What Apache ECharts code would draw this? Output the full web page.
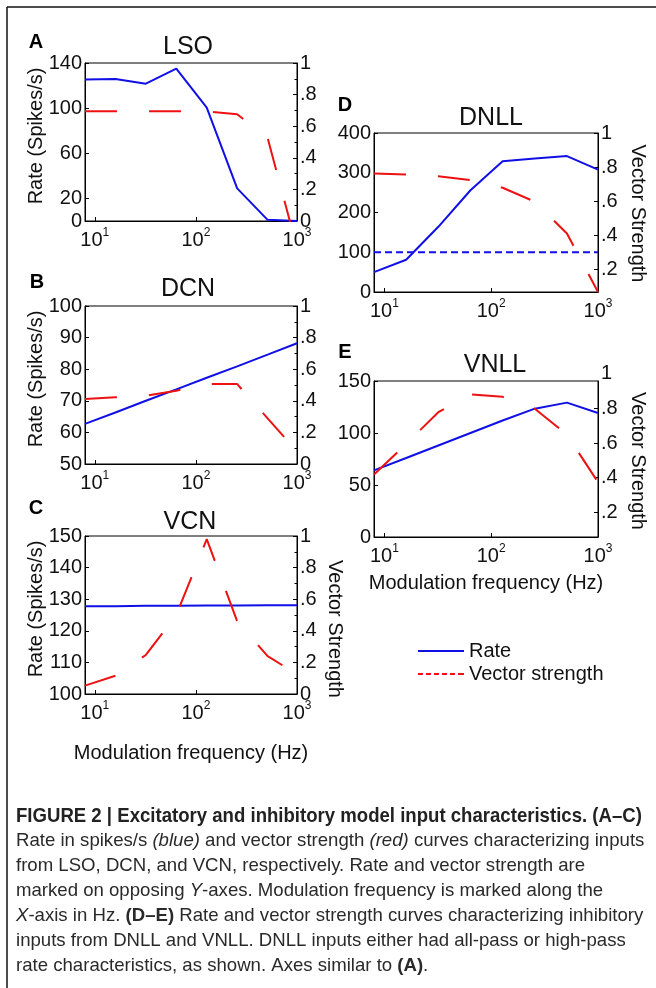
<!DOCTYPE html>
<html><head><meta charset="utf-8">
<script src="https://cdn.jsdelivr.net/npm/echarts@6/dist/echarts.min.js"></script>
<style>html,body{margin:0;padding:0;background:#fff}#c{width:656px;height:988px}</style>
</head><body><div id="c"></div>
<script>
// ---------- data ----------
const freq = [8, 16, 32, 64, 128, 256, 512, 1000];          // modulation frequency (Hz)
const lsoRate  = [125.3, 125.8, 121.7, 135, 100.5, 28.9, 1, 0];
const lsoVS    = [0.695, 0.695, 0.695, 0.695, 0.693, 0.676, 0.526, -0.17];
const dcnRate  = [62.7, 66.3, 70.0, 73.6, 77.3, 80.9, 84.6, 88.2];
const dcnVS    = [0.411, 0.422, 0.432, 0.464, 0.506, 0.506, 0.289, 0.08];
const vcnRate  = [127.8, 127.8, 127.9, 127.9, 128.0, 128.0, 128.1, 128.1];
const vcnVS    = [0.053, 0.116, 0.247, 0.50, 0.98, 0.46, 0.24, 0.125];
const dnllRate = [50, 81, 164, 256, 329, 336, 342, 308];       // high-pass
const dnllRateAllPass = [100, 100, 100, 100, 100, 100, 100, 100];
const dnllVS   = [0.762, 0.756, 0.745, 0.723, 0.678, 0.596, 0.409, 0.065];
const vnllRate = [64.1, 76, 88, 100, 112, 123.4, 129.2, 119.2];
const vnllVS   = [0.418, 0.595, 0.78, 0.884, 0.869, 0.80, 0.65, 0.373];
const lsoRateTicks = [0, 20, 60, 100, 140];
const dnllVSTicks = [0.2, 0.4, 0.6, 0.8, 1];
const vnllVSTicks = [0.2, 0.4, 0.6, 0.8];
const panelTitles = ['LSO', 'DCN', 'VCN', 'DNLL', 'VNLL'];
const panelLetters = ['A', 'B', 'C', 'D', 'E'];
const captionLines = [
  'Rate in spikes/s {i|(blue)} and vector strength {i|(red)} curves characterizing inputs',
  'from LSO, DCN, and VCN, respectively. Rate and vector strength are',
  'marked on opposing {i|Y}-axes. Modulation frequency is marked along the',
  '{i|X}-axis in Hz. {b|(D–E)} Rate and vector strength curves characterizing inhibitory',
  'inputs from DNLL and VNLL. DNLL inputs either had all-pass or high-pass',
  'rate characteristics, as shown. Axes similar to {b|(A)}.'
];
const captionHead = 'FIGURE 2 | Excitatory and inhibitory model input characteristics. (A–C)';

// ---------- styling ----------
const FONT = '"Liberation Sans", Arial, Helvetica, sans-serif';
const BLUE = '#1010e6', RED = '#ee1111', INK = '#111';
const zip = (a, b) => a.map((v, i) => [v, b[i]]);

const grids = [
  {left: 85, top: 63, width: 212, height: 158},
  {left: 85, top: 306, width: 212, height: 158},
  {left: 85, top: 536, width: 212, height: 158},
  {left: 374, top: 133, width: 224, height: 159},
  {left: 374, top: 381, width: 224, height: 156}
].map(g => Object.assign({show: true, borderColor: '#000', borderWidth: 1, backgroundColor: 'transparent', containLabel: false, outerBoundsMode: 'none'}, g));

function expLabel(v) {
  const e = Math.log10(v), r = Math.round(e);
  return Math.abs(e - r) < 1e-6 ? '{b|10}{sup|' + r + '}' : '';
}
function xAxis(gi, name, nameGap) {
  return {
    type: 'log', logBase: 10, gridIndex: gi, min: 8, max: 1000,
    axisLine: {show: true, lineStyle: {color: '#000', width: 1}},
    axisTick: {show: true, inside: true, length: 4, lineStyle: {color: '#000'}},
    axisLabel: {color: INK, margin: 6, formatter: expLabel, showMinLabel: false,
      rich: {b: {fontSize: 20, fontFamily: FONT, color: INK, lineHeight: 26},
             sup: {fontSize: 12, fontFamily: FONT, color: INK, lineHeight: 12, verticalAlign: 'top'}}},
    splitLine: {show: false}, minorTick: {show: false},
    name: name || '', nameLocation: 'middle', nameGap: nameGap || 0, nameMoveOverlap: false,
    nameTextStyle: {fontSize: 20, fontFamily: FONT, color: INK}
  };
}
function yLeft(gi, o, name) {
  return Object.assign({
    type: 'value', gridIndex: gi, position: 'left',
    axisLine: {show: true, lineStyle: {color: '#000', width: 1}},
    axisTick: {show: true, inside: true, length: 4, lineStyle: {color: '#000'}},
    axisLabel: {color: INK, fontSize: 20, fontFamily: FONT, margin: 3},
    splitLine: {show: false},
    name: name || '', nameLocation: 'middle', nameGap: 39, nameRotate: 90, nameMoveOverlap: false,
    nameTextStyle: {fontSize: 20, fontFamily: FONT, color: INK, padding: [0, 0, 0, 12]}
  }, o);
}
function vsFmt(v) {
  if (Math.abs(v) < 1e-9) return '0';
  if (Math.abs(v - 1) < 1e-9) return '1';
  return v.toFixed(1).replace(/^0/, '');
}
function yRight(gi, o, name, nameGap, pad) {
  return Object.assign({
    type: 'value', gridIndex: gi, position: 'right',
    axisLine: {show: true, lineStyle: {color: '#000', width: 1}},
    axisTick: {show: true, inside: true, length: 4, lineStyle: {color: '#000'}},
    minorTick: {show: true, splitNumber: 2, length: 2.5, lineStyle: {color: '#000'}},
    axisLabel: {color: INK, fontSize: 20, fontFamily: FONT, margin: 3, formatter: vsFmt},
    splitLine: {show: false},
    name: name || '', nameLocation: 'middle', nameGap: nameGap || 0, nameRotate: -90, nameMoveOverlap: false,
    nameTextStyle: {fontSize: 20, fontFamily: FONT, color: INK, padding: [0, 0, 0, pad || 0]}
  }, o);
}

const xAxes = [xAxis(0), xAxis(1), xAxis(2, 'Modulation frequency (Hz)', 49), xAxis(3), xAxis(4, 'Modulation frequency (Hz)', 36)];
const yAxes = [
  yLeft(0, {min: 0, max: 140, axisLabel: {color: INK, fontSize: 20, fontFamily: FONT, margin: 3, customValues: lsoRateTicks}, axisTick: {show: true, inside: true, length: 4, lineStyle: {color: '#000'}, customValues: lsoRateTicks}}, 'Rate (Spikes/s)'),
  yRight(0, {min: 0, max: 1, interval: 0.2}),
  yLeft(1, {min: 50, max: 100, interval: 10}, 'Rate (Spikes/s)'),
  yRight(1, {min: 0, max: 1, interval: 0.2}),
  yLeft(2, {min: 100, max: 150, interval: 10}, 'Rate (Spikes/s)'),
  yRight(2, {min: 0, max: 1, interval: 0.2}, 'Vector Strength', 28, 28),
  yLeft(3, {min: 0, max: 400, interval: 100}),
  yRight(3, {min: 0.065, max: 1, minorTick: {show: false},
    axisLabel: {color: INK, fontSize: 20, fontFamily: FONT, margin: 3, formatter: vsFmt, customValues: dnllVSTicks},
    axisTick: {show: true, inside: true, length: 4, lineStyle: {color: '#000'}, customValues: dnllVSTicks}}, 'Vector Strength', 30, 2),
  yLeft(4, {min: 0, max: 150, interval: 50}),
  yRight(4, {min: 0.055, max: 0.961, minorTick: {show: false},
    axisLabel: {color: INK, fontSize: 20, fontFamily: FONT, margin: 3, formatter: vsFmt, customValues: vnllVSTicks},
    axisTick: {show: true, inside: true, length: 4, lineStyle: {color: '#000'}, customValues: vnllVSTicks}}, 'Vector Strength', 30, 4)
];

function rateSeries(gi, vals, name, type) {
  return {name: name || 'Rate', type: 'line', xAxisIndex: gi, yAxisIndex: 2 * gi, data: zip(freq, vals),
    symbol: 'none', silent: true, clip: true, z: 3,
    lineStyle: {color: BLUE, width: 2, type: type || 'solid'}, itemStyle: {color: BLUE}};
}
function vsSeries(gi, vals) {
  return {name: 'Vector strength', type: 'line', xAxisIndex: gi, yAxisIndex: 2 * gi + 1, data: zip(freq, vals),
    symbol: 'none', silent: true, clip: true, z: 4,
    lineStyle: {color: RED, width: 2, type: [32, 32]}, itemStyle: {color: RED}};
}
const series = [
  rateSeries(0, lsoRate), vsSeries(0, lsoVS),
  rateSeries(1, dcnRate), vsSeries(1, dcnVS),
  rateSeries(2, vcnRate), vsSeries(2, vcnVS),
  rateSeries(3, dnllRate), rateSeries(3, dnllRateAllPass, 'Rate (all-pass)', [7, 4]), vsSeries(3, dnllVS),
  rateSeries(4, vnllRate), vsSeries(4, vnllVS)
];

// ---------- text graphics ----------
const gfx = [];
const titlePos = [[188, 47], [188, 289], [190, 522], [491, 118], [495, 365]];
const letterPos = [[36, 42], [37, 282], [36, 508], [345, 105], [345, 352]];
panelTitles.forEach((t, i) => gfx.push({type: 'text', x: titlePos[i][0], y: titlePos[i][1], silent: true,
  style: {text: t, font: '25px ' + FONT, fill: INK, align: 'center', verticalAlign: 'middle'}}));
panelLetters.forEach((t, i) => gfx.push({type: 'text', x: letterPos[i][0], y: letterPos[i][1], silent: true,
  style: {text: t, font: 'bold 20px ' + FONT, fill: '#000', align: 'center', verticalAlign: 'middle'}}));
// right-axis "1" of panel E, which sits above the box top in the original
gfx.push({type: 'text', x: 601, y: 373, silent: true, style: {text: '1', font: '20px ' + FONT, fill: INK, align: 'left', verticalAlign: 'middle'}});
// frame
gfx.push({type: 'line', silent: true, shape: {x1: 7, y1: 7, x2: 656, y2: 7}, style: {stroke: '#111', lineWidth: 1.5}});
gfx.push({type: 'line', silent: true, shape: {x1: 7, y1: 7, x2: 7, y2: 988}, style: {stroke: '#111', lineWidth: 1.5}});
// caption
gfx.push({type: 'text', x: 16, y: 816, scaleX: 0.885, silent: true,
  style: {text: captionHead, font: 'bold 21px ' + FONT, fill: '#222', align: 'left', verticalAlign: 'middle'}});
captionLines.forEach((t, i) => gfx.push({type: 'text', x: 16, y: 841 + 25 * i, silent: true,
  style: {text: t, font: '18.6px ' + FONT, fill: '#2a2a2a', align: 'left', verticalAlign: 'middle',
    rich: {i: {fontStyle: 'italic', fontSize: 18.6, fontFamily: FONT, fill: '#2a2a2a'},
           b: {fontWeight: 'bold', fontSize: 18.6, fontFamily: FONT, fill: '#2a2a2a'}}}}));

const option = {
  animation: false,
  backgroundColor: '#fff',
  grid: grids, xAxis: xAxes, yAxis: yAxes, series: series,
  legend: {
    show: true, orient: 'vertical', left: 413, top: 636, itemWidth: 46, itemHeight: 14, itemGap: 3,
    textStyle: {fontSize: 20, fontFamily: FONT, color: INK},
    data: [
      {name: 'Rate', icon: 'path://M0,6L46,6L46,8L0,8Z', itemStyle: {color: BLUE}},
      {name: 'Vector strength', icon: 'path://M0,6h5v2h-5z M8,6h5v2h-5z M16,6h5v2h-5z M24,6h5v2h-5z M32,6h5v2h-5z M40,6h6v2h-6z', itemStyle: {color: RED}}
    ],
    selectedMode: false
  },
  graphic: gfx
};
const chart = echarts.init(document.getElementById('c'), null, {renderer: 'canvas'});
chart.setOption(option);
</script>
</body></html>
